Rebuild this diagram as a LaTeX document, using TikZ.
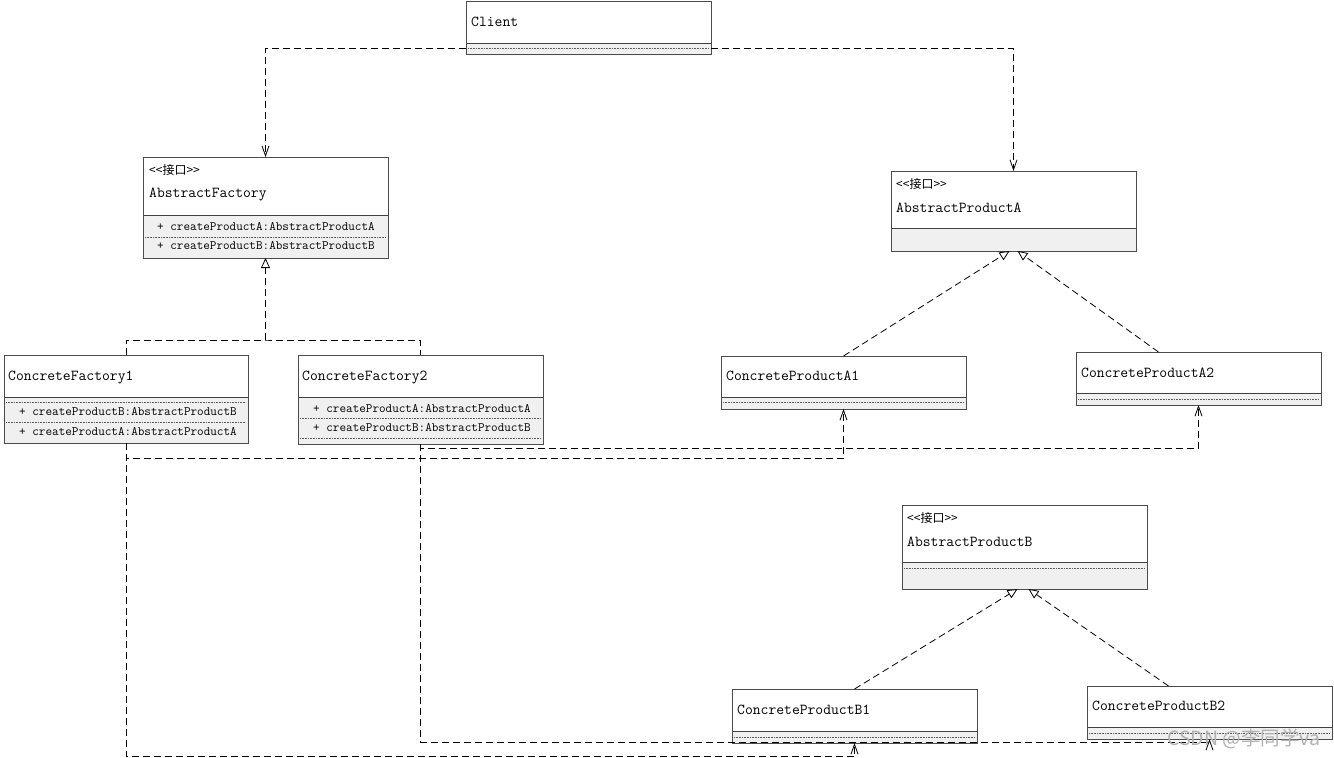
\documentclass[tikz,border=0pt]{standalone}
\usepackage{fontspec}
\newfontfamily\cjk{Noto Sans CJK SC}
\usetikzlibrary{arrows.meta,calc}
\tikzset{
  cls/.style={draw=black!70, line width=0.9pt, fill=white, anchor=north west, inner sep=0pt, outer sep=0pt, rectangle},
  comp/.style={fill=black!6},
  sep/.style={draw=black!75, line width=0.9pt},
  dots/.style={draw=black!65, line width=0.5pt, dash pattern=on 0.8pt off 0.8pt},
  nm/.style={anchor=west, inner sep=0pt, font=\ttfamily\fontsize{15.2}{17}\selectfont},
  st/.style={anchor=west, inner sep=0pt, font=\cjk\fontsize{12}{14}\selectfont},
  op/.style={anchor=west, inner sep=0pt, font=\ttfamily\fontsize{12.8}{14}\selectfont},
  dl/.style={draw=black, dash pattern=on 7pt off 4pt, line width=0.8pt},
  dep/.style={dl, -{Straight Barb[length=10pt,width=7pt]}},
  real/.style={dl, -{Triangle[open,length=10pt,width=9pt,fill=white]}},
  wmark/.style={anchor=west, inner sep=0pt, text=black!30, font=\cjk\fontsize{19.5}{21}\selectfont},
}
\newcommand\umlbox[6]{%
  \node[cls, minimum width=#4pt, minimum height=#5pt] (#1) at (#2,#3) {};
  \fill[comp] ($(#1.north west)+(0,#6)$) rectangle (#1.south east);
  \draw[sep] ($(#1.north west)+(0,#6)$) -- ($(#1.north east)+(0,#6)$);
  \draw[draw=black!70, line width=0.9pt] (#1.north west) rectangle (#1.south east);
}
\newcommand\dotline[3]{\draw[dots] (#1,#3) -- (#2,#3);}
\begin{document}
\begin{tikzpicture}[x=1pt,y=-1pt]
\useasboundingbox (0,0) rectangle (1334,758);
\fill[white] (0,0) rectangle (1334,758);

% ---- boxes ----
\umlbox{client}{466}{1}{245}{53}{42}
\node[nm] (clientname) at (471,22) {Client};
\dotline{468}{709}{48}

\umlbox{af}{143}{157}{245}{101}{58}
\node[st] (afst) at (149,170) {<\kern0pt<接口>\kern0pt>};
\node[nm] (afname) at (149,194) {AbstractFactory};
\node[op] (afop1) at (157,227) {+ createProductA:AbstractProductA};
\dotline{145}{386}{237}
\node[op] (afop2) at (157,246) {+ createProductB:AbstractProductB};

\umlbox{apa}{891}{171}{245}{80}{57}
\node[st] (apast) at (896,184) {<\kern0pt<接口>\kern0pt>};
\node[nm] (apaname) at (896,208) {AbstractProductA};

\umlbox{cf1}{4}{355}{244}{88}{42}
\node[nm] (cf1name) at (8,377) {ConcreteFactory1};
\dotline{6}{246}{402}
\node[op] (cf1op1) at (19,412) {+ createProductB:AbstractProductB};
\dotline{6}{246}{422}
\node[op] (cf1op2) at (19,432) {+ createProductA:AbstractProductA};

\umlbox{cf2}{298}{355}{245}{89}{42}
\node[nm] (cf2name) at (302,377) {ConcreteFactory2};
\node[op] (cf2op1) at (313,409) {+ createProductA:AbstractProductA};
\dotline{300}{541}{418}
\node[op] (cf2op2) at (313,428) {+ createProductB:AbstractProductB};
\dotline{300}{541}{438}

\umlbox{a1}{721}{356}{245}{53}{41}
\node[nm] (a1name) at (726,376) {ConcreteProductA1};
\dotline{723}{964}{402}

\umlbox{a2}{1076}{352}{245}{53}{41}
\node[nm] (a2name) at (1081,373) {ConcreteProductA2};
\dotline{1078}{1319}{399}

\umlbox{apb}{902}{505}{245}{84}{57}
\node[st] (apbst) at (907,518) {<\kern0pt<接口>\kern0pt>};
\node[nm] (apbname) at (907,542) {AbstractProductB};
\dotline{904}{1145}{568}

\umlbox{b1}{732}{689}{245}{54}{42}
\node[nm] (b1name) at (737,710) {ConcreteProductB1};
\dotline{734}{975}{737}

\umlbox{b2}{1087}{686}{245}{53}{41}
\node[nm] (b2name) at (1092,706) {ConcreteProductB2};
\dotline{1089}{1330}{733}

% ---- Client dependencies ----
\coordinate (cl) at (588,48);
\draw[dep] (client.west |- cl) -| (af.north);
\draw[dep] (client.east |- cl) -| (apa.north);

% ---- realization of AbstractFactory ----
\coordinate (j) at (265.5,340);
\draw[dl] (cf1.north) |- (j) -| (cf2.north);
\draw[real] (j) -- (af.south);

% ---- realization of AbstractProductA / B ----
\draw[real] (a1.north) -- ($(apa.south)+(-4,0)$);
\draw[real] ($(a2.north)+(-40,0)$) -- ($(apa.south)+(4,0)$);
\draw[real] (b1.north) -- ($(apb.south)+(-7,0)$);
\draw[real] ($(b2.north)+(-41,0)$) -- ($(apb.south)+(4,0)$);

% ---- factory dependencies ----
\draw[dep] (cf1.south) -- ++(0,15) -| (a1.south);
\draw[dep] (cf1.south) -- ++(0,313.5) -| (b1.south);
\draw[dep] (cf2.south) -- ++(0,4) -| (a2.south);
\draw[dep] (cf2.south) -- ++(0,298) -| (b2.south);

% ---- watermark ----
\node[wmark] (wm) at (1167,739) {CSDN @李同学va};
\end{tikzpicture}
\end{document}
